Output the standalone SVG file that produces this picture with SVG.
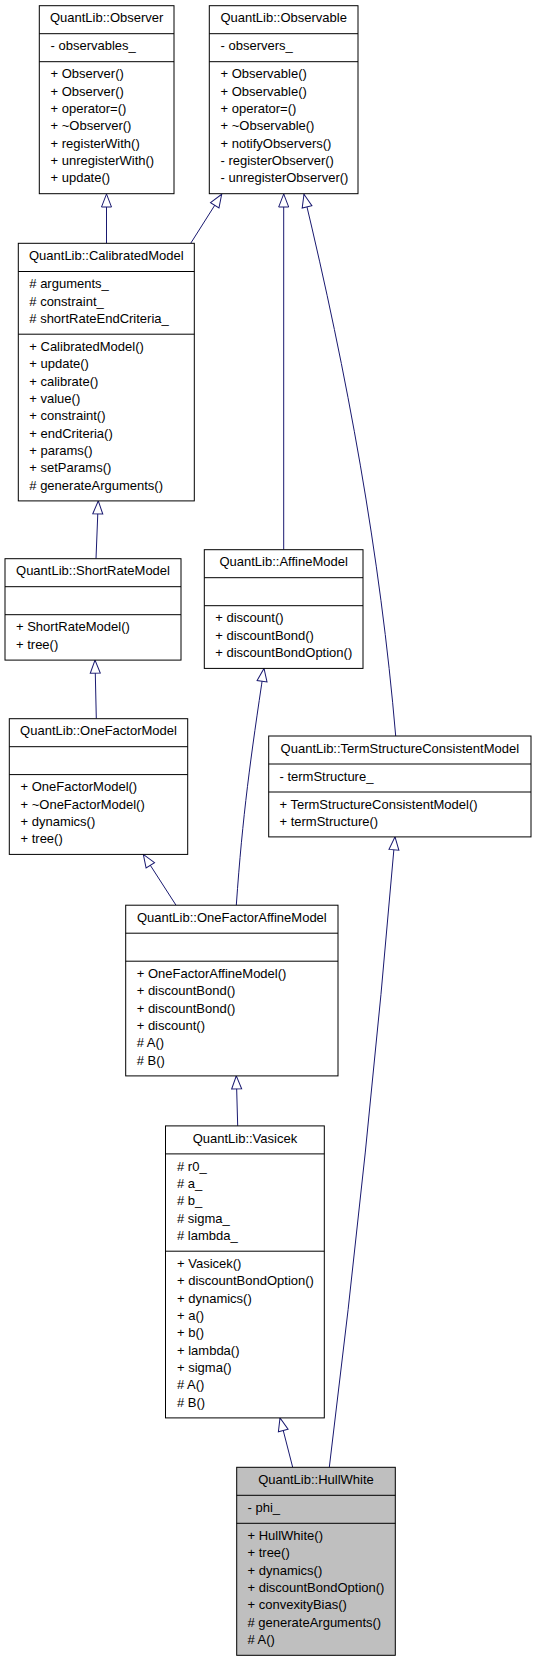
<svg xmlns="http://www.w3.org/2000/svg" width="536" height="1661" viewBox="0 0 536 1661">
<style>
text{font-family:"Liberation Sans",Arial,Helvetica,sans-serif;font-size:13px;fill:#000}
.t{text-anchor:middle}
.box{fill:#fff;stroke:#000;stroke-width:1}
.hl{fill:#bfbfbf}
.div{stroke:#000;stroke-width:1}
.edge{fill:none;stroke:#191970;stroke-width:1;marker-end:url(#inh)}
</style>
<defs>
<marker id="inh" markerUnits="userSpaceOnUse" markerWidth="16" markerHeight="12" refX="13" refY="5" orient="auto" overflow="visible">
<path d="M0,0 L13,5 L0,10 Z" fill="#fff" stroke="#191970" stroke-width="1"/>
</marker>
</defs>
<rect width="536" height="1661" fill="#fff"/>

<g id="connectors">
<path class="edge" d="M106.5,243.3 L106.5,194"/>
<path class="edge" d="M190.7,243.3 L221.7,194.3"/>
<path class="edge" d="M283.7,549.7 L283.7,194"/>
<path class="edge" d="M395.7,736 C380.4,556 347.2,374.3 304,194.3"/>
<path class="edge" d="M96,558.7 L98.3,500.9"/>
<path class="edge" d="M96.3,718.7 L95,660.1"/>
<path class="edge" d="M236.3,905.2 C242.6,815 250.5,758.3 264,668.4"/>
<path class="edge" d="M176,905.2 L143.3,854.4"/>
<path class="edge" d="M237.7,1125.9 L236.3,1075.9"/>
<path class="edge" d="M329.3,1467.3 Q368.5,1152 395,836.9"/>
<path class="edge" d="M292.7,1467.3 L280,1417.9"/>
</g>

<g id="Observer">
<rect class="box" x="39.3" y="5.7" width="134.7" height="188"/>
<line class="div" x1="39.3" y1="33.7" x2="174" y2="33.7"/>
<line class="div" x1="39.3" y1="61.7" x2="174" y2="61.7"/>
<text class="t" x="106.65" y="22.4">QuantLib::Observer</text>
<text x="50.5" y="50.4">- observables_</text>
<text x="50.5" y="78.4">+ Observer()</text>
<text x="50.5" y="95.7">+ Observer()</text>
<text x="50.5" y="113.1">+ operator=()</text>
<text x="50.5" y="130.4">+ ~Observer()</text>
<text x="50.5" y="147.7">+ registerWith()</text>
<text x="50.5" y="165">+ unregisterWith()</text>
<text x="50.5" y="182.4">+ update()</text>
</g>

<g id="Observable">
<rect class="box" x="209.3" y="5.7" width="148.7" height="188"/>
<line class="div" x1="209.3" y1="33.7" x2="358" y2="33.7"/>
<line class="div" x1="209.3" y1="61.7" x2="358" y2="61.7"/>
<text class="t" x="283.65" y="22.4">QuantLib::Observable</text>
<text x="220.5" y="50.4">- observers_</text>
<text x="220.5" y="78.4">+ Observable()</text>
<text x="220.5" y="95.7">+ Observable()</text>
<text x="220.5" y="113.1">+ operator=()</text>
<text x="220.5" y="130.4">+ ~Observable()</text>
<text x="220.5" y="147.7">+ notifyObservers()</text>
<text x="220.5" y="165">- registerObserver()</text>
<text x="220.5" y="182.4">- unregisterObserver()</text>
</g>

<g id="CalibratedModel">
<rect class="box" x="18.3" y="243.3" width="176" height="257.6"/>
<line class="div" x1="18.3" y1="271.5" x2="194.3" y2="271.5"/>
<line class="div" x1="18.3" y1="334.2" x2="194.3" y2="334.2"/>
<text class="t" x="106.3" y="260">QuantLib::CalibratedModel</text>
<text x="29.3" y="288.2"># arguments_</text>
<text x="29.3" y="305.5"># constraint_</text>
<text x="29.3" y="322.9"># shortRateEndCriteria_</text>
<text x="29.3" y="350.9">+ CalibratedModel()</text>
<text x="29.3" y="368.2">+ update()</text>
<text x="29.3" y="385.6">+ calibrate()</text>
<text x="29.3" y="402.9">+ value()</text>
<text x="29.3" y="420.2">+ constraint()</text>
<text x="29.3" y="437.6">+ endCriteria()</text>
<text x="29.3" y="454.9">+ params()</text>
<text x="29.3" y="472.2">+ setParams()</text>
<text x="29.3" y="489.5"># generateArguments()</text>
</g>

<g id="ShortRateModel">
<rect class="box" x="5" y="558.7" width="176" height="101.4"/>
<line class="div" x1="5" y1="586.7" x2="181" y2="586.7"/>
<line class="div" x1="5" y1="614.7" x2="181" y2="614.7"/>
<text class="t" x="93" y="575.4">QuantLib::ShortRateModel</text>
<text x="16" y="631.4">+ ShortRateModel()</text>
<text x="16" y="648.7">+ tree()</text>
</g>

<g id="AffineModel">
<rect class="box" x="204.3" y="549.7" width="158.7" height="118.7"/>
<line class="div" x1="204.3" y1="577.7" x2="363" y2="577.7"/>
<line class="div" x1="204.3" y1="605.7" x2="363" y2="605.7"/>
<text class="t" x="283.65" y="566.4">QuantLib::AffineModel</text>
<text x="215.3" y="622.4">+ discount()</text>
<text x="215.3" y="639.7">+ discountBond()</text>
<text x="215.3" y="657.1">+ discountBondOption()</text>
</g>

<g id="OneFactorModel">
<rect class="box" x="9.3" y="718.7" width="178.4" height="135.7"/>
<line class="div" x1="9.3" y1="746.7" x2="187.7" y2="746.7"/>
<line class="div" x1="9.3" y1="774.6" x2="187.7" y2="774.6"/>
<text class="t" x="98.5" y="735.4">QuantLib::OneFactorModel</text>
<text x="20.5" y="791.4">+ OneFactorModel()</text>
<text x="20.5" y="808.7">+ ~OneFactorModel()</text>
<text x="20.5" y="826.1">+ dynamics()</text>
<text x="20.5" y="843.4">+ tree()</text>
</g>

<g id="TermStructureConsistentModel">
<rect class="box" x="268.7" y="736" width="262.3" height="100.9"/>
<line class="div" x1="268.7" y1="764" x2="531" y2="764"/>
<line class="div" x1="268.7" y1="792" x2="531" y2="792"/>
<text class="t" x="399.85" y="752.7">QuantLib::TermStructureConsistentModel</text>
<text x="279.5" y="780.7">- termStructure_</text>
<text x="279.5" y="808.7">+ TermStructureConsistentModel()</text>
<text x="279.5" y="826">+ termStructure()</text>
</g>

<g id="OneFactorAffineModel">
<rect class="box" x="125.7" y="905.2" width="212.3" height="170.7"/>
<line class="div" x1="125.7" y1="933.2" x2="338" y2="933.2"/>
<line class="div" x1="125.7" y1="961.2" x2="338" y2="961.2"/>
<text class="t" x="231.85" y="921.9">QuantLib::OneFactorAffineModel</text>
<text x="136.7" y="977.9">+ OneFactorAffineModel()</text>
<text x="136.7" y="995.2">+ discountBond()</text>
<text x="136.7" y="1012.6">+ discountBond()</text>
<text x="136.7" y="1029.9">+ discount()</text>
<text x="136.7" y="1047.2"># A()</text>
<text x="136.7" y="1064.6"># B()</text>
</g>

<g id="Vasicek">
<rect class="box" x="165.5" y="1125.9" width="158.8" height="292"/>
<line class="div" x1="165.5" y1="1153.9" x2="324.3" y2="1153.9"/>
<line class="div" x1="165.5" y1="1251.2" x2="324.3" y2="1251.2"/>
<text class="t" x="244.9" y="1142.6">QuantLib::Vasicek</text>
<text x="177" y="1170.6"># r0_</text>
<text x="177" y="1187.9"># a_</text>
<text x="177" y="1205.3"># b_</text>
<text x="177" y="1222.6"># sigma_</text>
<text x="177" y="1239.9"># lambda_</text>
<text x="177" y="1267.9">+ Vasicek()</text>
<text x="177" y="1285.2">+ discountBondOption()</text>
<text x="177" y="1302.6">+ dynamics()</text>
<text x="177" y="1319.9">+ a()</text>
<text x="177" y="1337.2">+ b()</text>
<text x="177" y="1354.6">+ lambda()</text>
<text x="177" y="1371.9">+ sigma()</text>
<text x="177" y="1389.2"># A()</text>
<text x="177" y="1406.6"># B()</text>
</g>

<g id="HullWhite">
<rect class="box hl" x="236.7" y="1467.3" width="158.6" height="188"/>
<line class="div" x1="236.7" y1="1495.3" x2="395.3" y2="1495.3"/>
<line class="div" x1="236.7" y1="1523.3" x2="395.3" y2="1523.3"/>
<text class="t" x="316" y="1484">QuantLib::HullWhite</text>
<text x="247.5" y="1512">- phi_</text>
<text x="247.5" y="1540">+ HullWhite()</text>
<text x="247.5" y="1557.3">+ tree()</text>
<text x="247.5" y="1574.7">+ dynamics()</text>
<text x="247.5" y="1592">+ discountBondOption()</text>
<text x="247.5" y="1609.3">+ convexityBias()</text>
<text x="247.5" y="1626.7"># generateArguments()</text>
<text x="247.5" y="1644"># A()</text>
</g>
</svg>
